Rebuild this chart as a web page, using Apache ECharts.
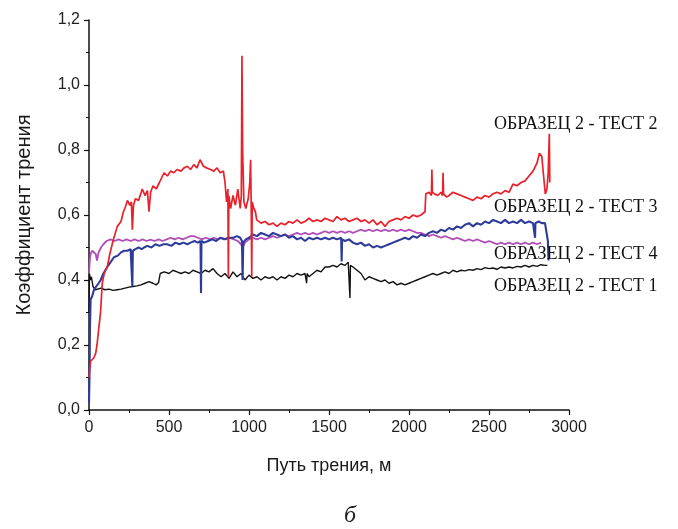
<!DOCTYPE html>
<html>
<head>
<meta charset="utf-8">
<script src="https://cdn.jsdelivr.net/npm/echarts@6/dist/echarts.min.js"></script>
<style>html,body{margin:0;padding:0;background:#fff}#c{width:678px;height:529px}</style>
</head>
<body>
<div id="c"></div>
<script>
// ---- data (distance in m, friction coefficient) ----
const seriesNames = ['ОБРАЗЕЦ 2 - ТЕСТ 1','ОБРАЗЕЦ 2 - ТЕСТ 2','ОБРАЗЕЦ 2 - ТЕСТ 3','ОБРАЗЕЦ 2 - ТЕСТ 4'];
const xTicks = [0,500,1000,1500,2000,2500,3000];
const yTicks = [0,0.2,0.4,0.6,0.8,1.0,1.2];

const test1X = [0,3,8,15,25,40,52,75,100,125,150,175,200,225,250,275,300,325,350,375,400,420,435,445,470,500,525,550,575,600,625,650,675,700,725,750,775,800,825,850,875,900,925,950,975,1000,1025,1050,1075,1100,1125,1150,1175,1200,1225,1250,1275,1300,1325,1350,1357,1360,1363,1375,1400,1425,1450,1475,1500,1525,1550,1575,1600,1620,1628,1631,1634,1650,1675,1700,1725,1750,1775,1800,1825,1850,1875,1900,1925,1950,1975,2000,2025,2050,2075,2100,2125,2150,2175,2200,2225,2250,2275,2300,2325,2350,2375,2400,2425,2450,2475,2500,2525,2550,2575,2600,2625,2650,2675,2700,2725,2750,2775,2800,2825,2850,2865];
const test1Y = [0.30,0.42,0.40,0.41,0.38,0.37,0.37,0.375,0.37,0.372,0.368,0.37,0.372,0.375,0.378,0.38,0.382,0.385,0.39,0.395,0.39,0.385,0.392,0.42,0.425,0.42,0.43,0.425,0.42,0.425,0.42,0.43,0.425,0.42,0.43,0.425,0.435,0.42,0.41,0.42,0.405,0.425,0.41,0.42,0.40,0.415,0.405,0.41,0.40,0.41,0.405,0.41,0.40,0.41,0.405,0.415,0.41,0.42,0.415,0.42,0.415,0.39,0.42,0.41,0.42,0.43,0.425,0.44,0.44,0.445,0.44,0.45,0.445,0.455,0.45,0.345,0.445,0.44,0.43,0.42,0.40,0.41,0.405,0.40,0.395,0.40,0.39,0.395,0.385,0.39,0.385,0.39,0.395,0.40,0.405,0.41,0.415,0.42,0.415,0.42,0.425,0.42,0.43,0.425,0.43,0.428,0.432,0.43,0.435,0.432,0.438,0.435,0.437,0.433,0.44,0.437,0.44,0.437,0.442,0.44,0.445,0.44,0.445,0.442,0.447,0.445,0.445];

const test2X = [0,5,10,20,30,42,50,62,72,83,95,114,130,150,177,200,215,229,240,255,265,271,278,290,310,333,350,365,375,385,400,420,440,469,490,510,530,550,575,594,615,635,655,675,694,715,735,760,780,800,820,840,850,860,868,871,874,885,900,915,930,945,952,956,960,968,980,995,1005,1010,1014,1017,1020,1030,1040,1048,1060,1075,1100,1125,1150,1175,1200,1225,1250,1275,1300,1325,1350,1375,1400,1425,1450,1475,1500,1525,1550,1575,1600,1625,1650,1675,1700,1725,1750,1775,1800,1825,1850,1875,1900,1925,1950,1975,2000,2025,2050,2075,2100,2105,2125,2140,2143,2146,2160,2180,2200,2210,2213,2216,2235,2250,2275,2300,2325,2350,2375,2400,2425,2450,2475,2500,2525,2550,2575,2600,2625,2650,2675,2700,2725,2750,2775,2800,2815,2830,2845,2852,2862,2870,2877,2880];
const test2Y = [0.10,0.13,0.15,0.155,0.16,0.175,0.20,0.255,0.30,0.39,0.42,0.44,0.48,0.52,0.565,0.58,0.61,0.627,0.645,0.63,0.64,0.555,0.63,0.65,0.645,0.68,0.66,0.675,0.61,0.67,0.69,0.68,0.70,0.73,0.72,0.735,0.73,0.74,0.735,0.745,0.75,0.74,0.755,0.745,0.77,0.75,0.745,0.74,0.735,0.745,0.73,0.735,0.70,0.64,0.68,0.41,0.66,0.62,0.66,0.63,0.68,0.62,0.66,1.09,0.80,0.64,0.62,0.65,0.70,0.77,0.62,0.41,0.64,0.62,0.61,0.585,0.58,0.575,0.58,0.57,0.575,0.565,0.575,0.57,0.58,0.575,0.585,0.575,0.58,0.59,0.58,0.585,0.58,0.59,0.585,0.58,0.595,0.585,0.59,0.58,0.585,0.59,0.58,0.585,0.575,0.585,0.57,0.58,0.565,0.58,0.585,0.59,0.585,0.595,0.59,0.60,0.595,0.60,0.61,0.665,0.67,0.66,0.74,0.67,0.665,0.66,0.67,0.66,0.73,0.665,0.655,0.66,0.67,0.665,0.66,0.655,0.65,0.645,0.655,0.65,0.66,0.655,0.665,0.67,0.665,0.675,0.67,0.695,0.69,0.70,0.705,0.72,0.735,0.76,0.79,0.78,0.70,0.665,0.68,0.73,0.85,0.70];

const test3X = [0,3,6,10,20,31,45,60,73,90,114,135,156,180,200,219,240,260,268,271,274,290,310,330,344,365,390,415,440,465,489,515,540,565,590,615,635,660,680,697,700,703,720,745,770,795,820,845,870,902,925,945,956,960,964,980,1000,1025,1050,1075,1100,1125,1150,1175,1200,1225,1250,1275,1300,1325,1350,1375,1400,1425,1450,1475,1500,1525,1550,1576,1579,1582,1600,1625,1650,1675,1700,1725,1750,1775,1800,1825,1850,1875,1900,1925,1950,1975,2000,2025,2050,2075,2100,2125,2150,2175,2200,2225,2250,2275,2300,2325,2350,2375,2400,2425,2450,2475,2500,2525,2550,2575,2600,2625,2650,2675,2700,2725,2750,2775,2786,2788,2790,2810,2830,2850,2862,2868,2872];
const test3Y = [0.02,0.10,0.25,0.34,0.35,0.37,0.38,0.39,0.40,0.42,0.44,0.455,0.47,0.475,0.485,0.49,0.49,0.495,0.49,0.38,0.49,0.495,0.50,0.495,0.50,0.505,0.50,0.51,0.505,0.51,0.51,0.505,0.515,0.51,0.515,0.51,0.515,0.52,0.515,0.52,0.36,0.52,0.515,0.52,0.525,0.52,0.53,0.525,0.53,0.53,0.535,0.53,0.52,0.40,0.515,0.525,0.53,0.54,0.535,0.545,0.54,0.535,0.545,0.54,0.535,0.54,0.53,0.535,0.525,0.53,0.52,0.53,0.525,0.53,0.525,0.53,0.525,0.53,0.525,0.53,0.457,0.525,0.52,0.525,0.515,0.51,0.515,0.505,0.51,0.50,0.505,0.50,0.505,0.51,0.515,0.52,0.525,0.53,0.525,0.535,0.53,0.54,0.535,0.545,0.55,0.545,0.555,0.55,0.56,0.555,0.565,0.56,0.57,0.575,0.565,0.575,0.57,0.58,0.575,0.585,0.58,0.575,0.585,0.575,0.58,0.575,0.585,0.575,0.58,0.575,0.57,0.53,0.575,0.58,0.575,0.575,0.57,0.52,0.46];

const test4X = [0,5,10,20,30,42,50,60,75,90,110,135,160,185,210,235,260,285,310,335,360,385,410,435,460,485,510,535,560,585,610,635,656,680,705,730,755,780,805,830,855,880,905,930,950,960,975,1000,1025,1050,1075,1100,1125,1150,1175,1200,1225,1250,1275,1300,1325,1350,1375,1400,1425,1450,1475,1500,1525,1550,1575,1600,1625,1650,1675,1700,1725,1750,1775,1800,1825,1850,1875,1900,1925,1950,1975,2000,2025,2050,2075,2100,2125,2150,2175,2200,2225,2250,2275,2300,2325,2350,2375,2400,2425,2450,2475,2500,2525,2550,2575,2600,2625,2650,2675,2700,2725,2750,2775,2800,2825];
const test4Y = [0.42,0.46,0.48,0.49,0.485,0.48,0.46,0.485,0.50,0.51,0.52,0.525,0.52,0.525,0.52,0.525,0.52,0.525,0.52,0.525,0.52,0.524,0.52,0.525,0.52,0.525,0.53,0.525,0.53,0.525,0.53,0.535,0.535,0.53,0.525,0.53,0.525,0.53,0.525,0.53,0.525,0.53,0.525,0.52,0.51,0.50,0.515,0.525,0.53,0.525,0.53,0.525,0.53,0.535,0.53,0.535,0.54,0.535,0.54,0.545,0.54,0.545,0.54,0.545,0.54,0.545,0.55,0.545,0.55,0.545,0.55,0.545,0.55,0.545,0.55,0.555,0.55,0.555,0.55,0.555,0.55,0.555,0.55,0.555,0.55,0.555,0.55,0.555,0.55,0.545,0.545,0.54,0.535,0.54,0.535,0.53,0.535,0.53,0.525,0.53,0.525,0.52,0.525,0.52,0.525,0.52,0.515,0.52,0.515,0.51,0.515,0.51,0.515,0.51,0.515,0.51,0.515,0.51,0.515,0.51,0.515];

const colors = ['#111111','#e8212b','#2d3b9b','#b04db8'];
const lineWidths = [1.4,1.7,2.1,1.8];
const labelTops = [287,125,208,255];

const pairs = (xs, ys) => xs.map((x,i)=>[x, ys[i]]);
const dataSets = [pairs(test1X,test1Y), pairs(test2X,test2Y), pairs(test3X,test3Y), pairs(test4X,test4Y)];
const order = [0,3,2,1];

const chart = echarts.init(document.getElementById('c'), null, {renderer:'canvas'});
const axisFont = 'Liberation Sans, Arial, sans-serif';
chart.setOption({
  animation:false,
  backgroundColor:'#ffffff',
  grid:{left:89,right:109,top:20,bottom:119,containLabel:false},
  xAxis:{
    type:'value',min:0,max:3000,interval:500,
    name:'Путь трения, м',nameLocation:'middle',nameGap:47,
    nameTextStyle:{fontFamily:axisFont,fontSize:18,color:'#1a1a1a'},
    axisLine:{show:true,lineStyle:{color:'#111',width:1.5}},
    axisTick:{show:true,length:5,lineStyle:{color:'#111',width:1.2}},
    minorTick:{show:true,splitNumber:2,length:3,lineStyle:{color:'#111',width:1}},
    axisLabel:{margin:10,fontFamily:axisFont,fontSize:16,color:'#222',
      formatter:v=>xTicks.includes(v)?String(v):''},
    splitLine:{show:false}
  },
  yAxis:{
    type:'value',min:0,max:1.2,interval:0.2,
    name:'Коэффициент трения',nameLocation:'middle',nameGap:55,
    nameTextStyle:{fontFamily:axisFont,fontSize:20,color:'#1a1a1a'},
    axisLine:{show:true,lineStyle:{color:'#111',width:1.5}},
    axisTick:{show:true,length:5,lineStyle:{color:'#111',width:1.2}},
    minorTick:{show:true,splitNumber:2,length:3,lineStyle:{color:'#111',width:1}},
    axisLabel:{margin:9,fontFamily:axisFont,fontSize:16,color:'#222',
      formatter:v=>{const t=yTicks.find(k=>Math.abs(k-v)<1e-6);return t===undefined?'':t.toFixed(1).replace('.',',');}},
    splitLine:{show:false}
  },
  series: order.map(i=>({
    name:seriesNames[i],type:'line',data:dataSets[i],showSymbol:false,symbol:'none',
    lineStyle:{color:colors[i],width:lineWidths[i]},itemStyle:{color:colors[i]},
    z:2+order.indexOf(i)
  })),
  graphic: seriesNames.map((n,i)=>({
    type:'text',left:494,top:labelTops[i]-10,z:100,
    style:{text:n,fontFamily:'Liberation Serif, Times New Roman, serif',fontSize:18,fill:'#111'}
  })).concat([{
    type:'text',left:344,top:504,
    style:{text:'б',fontFamily:'Liberation Serif, Times New Roman, serif',fontStyle:'italic',fontSize:24,fill:'#222'}
  }])
});
</script>
</body>
</html>
